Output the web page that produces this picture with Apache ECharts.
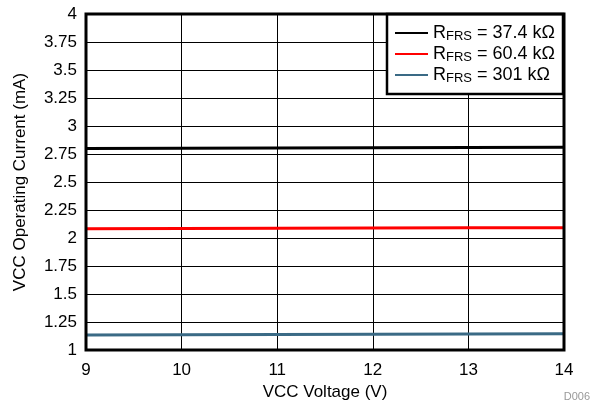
<!DOCTYPE html>
<html><head><meta charset="utf-8">
<script src="https://cdn.jsdelivr.net/npm/echarts@6/dist/echarts.min.js"></script>
<style>html,body{margin:0;padding:0;background:#fff}#c{width:598px;height:406px}</style>
</head><body><div id="c"></div>
<script>
const xValues = [9, 10, 11, 12, 13, 14];
const seriesNames = ['37.4 kΩ', '60.4 kΩ', '301 kΩ'];
const black374 = [2.800, 2.802, 2.804, 2.806, 2.808, 2.810];
const red604 = [2.084, 2.086, 2.088, 2.090, 2.091, 2.093];
const blue301 = [1.135, 1.137, 1.139, 1.141, 1.143, 1.145];
const colors = ['#000000', '#ff0000', '#3a6a85'];
const allData = [black374, red604, blue301];

const chart = echarts.init(document.getElementById('c'));
const font = 'Liberation Sans, Arial, Helvetica, sans-serif';
chart.setOption({
  animation: false,
  backgroundColor: '#fff',
  grid: { left: 86, right: 34, top: 14, bottom: 55, show: true, borderColor: '#000', borderWidth: 3, backgroundColor: 'transparent', z: 10 },
  xAxis: {
    type: 'value', min: 9, max: 14, interval: 1,
    name: 'VCC Voltage (V)', nameLocation: 'middle', nameGap: 33,
    nameTextStyle: { fontFamily: font, fontSize: 17, color: '#000' },
    axisLine: { show: false }, axisTick: { show: false },
    axisLabel: { fontFamily: font, fontSize: 17, color: '#000', margin: 12 },
    splitLine: { show: true, lineStyle: { color: '#000', width: 1 } }
  },
  yAxis: {
    type: 'value', min: 1, max: 4, interval: 0.25,
    name: 'VCC Operating Current (mA)', nameLocation: 'middle', nameGap: 57,
    nameTextStyle: { fontFamily: font, fontSize: 17, color: '#000' },
    axisLine: { show: false }, axisTick: { show: false },
    axisLabel: { fontFamily: font, fontSize: 17, color: '#000', margin: 9 },
    splitLine: { show: true, lineStyle: { color: '#000', width: 1 } }
  },
  legend: {
    right: 35, top: 14, orient: 'vertical',
    backgroundColor: '#fff', borderColor: '#000', borderWidth: 2.5,
    padding: [10, 8, 9, 8], itemGap: 2, itemWidth: 33, itemHeight: 18,
    icon: 'path://M0,8 L33,8 L33,10 L0,10 Z',
    data: seriesNames.map((n, i) => ({ name: n, itemStyle: { color: colors[i] } })),
    formatter: n => '{a|R}{b|FRS}{a| = ' + n + '}',
    textStyle: {
      rich: {
        a: { fontFamily: font, fontSize: 18, color: '#000' },
        b: { fontFamily: font, fontSize: 13, color: '#000', padding: [7, 0, 0, 0] }
      }
    }
  },
  graphic: [{ type: 'text', right: 8, bottom: 4, style: { text: 'D006', fontFamily: font, fontSize: 11, fill: '#999' } }],
  series: allData.map((d, i) => ({
    name: seriesNames[i], type: 'line', showSymbol: false, symbol: 'none',
    data: d.map((v, j) => [xValues[j], v]),
    lineStyle: { color: colors[i], width: 3 }, itemStyle: { color: colors[i] }, z: 5
  }))
});
</script></body></html>
